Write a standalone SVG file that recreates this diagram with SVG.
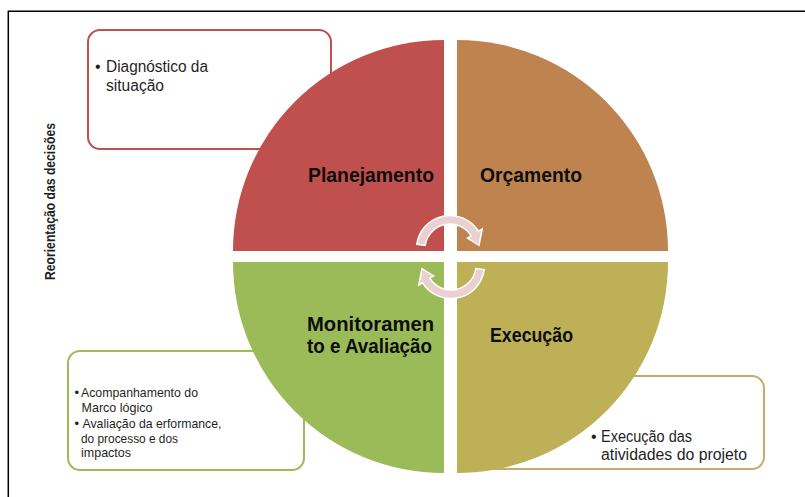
<svg xmlns="http://www.w3.org/2000/svg" width="805" height="497" viewBox="0 0 805 497">
<style>
.box{fill:#fff;stroke-width:2}
.t{font-family:"Liberation Sans",Arial,sans-serif;fill:#1f1f1f}
.q{font-family:"Liberation Sans",Arial,sans-serif;font-weight:bold;font-size:21px;fill:#0d0d0d}
.arr{fill:#EAD0D0;stroke:#fff;stroke-width:1.5;stroke-linejoin:miter}
</style>
<defs>
<path id="carrow" d="M416.8,244.3 A33.5,33.5 0 0 1 478.4,231.2 L482.2,228.9 L479.0,245.4 L467.4,238.1 L471.2,235.8 A25,25 0 0 0 425.2,245.5 Z"/>
</defs>
<rect width="805" height="497" fill="#fff"/>
<g id="frame" fill="none" stroke="#000" stroke-width="1.5">
<path d="M8.3,497 L8.3,11.3 L805,11.3"/>
</g>
<g id="label-reorientacao">
<text class="t" font-weight="bold" font-size="14" transform="translate(54.5,280) rotate(-90)" textLength="157" lengthAdjust="spacingAndGlyphs">Reorientação das decisões</text>
</g>
<g id="box-diagnostico">
<rect class="box" x="88" y="30" width="243" height="119" rx="12" stroke="#C0504D"/>
<text class="t" font-size="16" x="95" y="72">•</text>
<text class="t" font-size="16" x="106" y="72" textLength="102" lengthAdjust="spacingAndGlyphs">Diagnóstico da</text>
<text class="t" font-size="16" x="106" y="91" textLength="58" lengthAdjust="spacingAndGlyphs">situação</text>
</g>
<g id="box-monitoramento">
<rect class="box" x="68" y="351" width="236" height="119" rx="12" stroke="#9BBB59"/>
<text class="t" font-size="13" x="74.5" y="397">•</text>
<text class="t" font-size="13" x="81" y="397" textLength="117" lengthAdjust="spacingAndGlyphs">Acompanhamento do</text>
<text class="t" font-size="13" x="81.5" y="412" textLength="71" lengthAdjust="spacingAndGlyphs">Marco lógico</text>
<text class="t" font-size="13" x="74.5" y="428">•</text>
<text class="t" font-size="13" x="82.5" y="428" textLength="139" lengthAdjust="spacingAndGlyphs">Avaliação da erformance,</text>
<text class="t" font-size="13" x="81" y="443" textLength="97" lengthAdjust="spacingAndGlyphs">do processo e dos</text>
<text class="t" font-size="13" x="81" y="457" textLength="50" lengthAdjust="spacingAndGlyphs">impactos</text>
</g>
<g id="box-execucao">
<rect class="box" x="480" y="376" width="284" height="93" rx="12" stroke="#C9A86A"/>
<text class="t" font-size="16" x="591" y="442">•</text>
<text class="t" font-size="16" x="601" y="442" textLength="91" lengthAdjust="spacingAndGlyphs">Execução das</text>
<text class="t" font-size="16" x="601" y="460" textLength="146" lengthAdjust="spacingAndGlyphs">atividades do projeto</text>
</g>
<g id="node-planejamento">
<path d="M444,251 L233,251 A211,211 0 0 1 444,40 Z" fill="#C0504D"/>
<text class="q" x="308" y="182" textLength="126" lengthAdjust="spacingAndGlyphs">Planejamento</text>
</g>
<g id="node-orcamento">
<path d="M457,251 L457,40 A211,211 0 0 1 668,251 Z" fill="#BF834F"/>
<text class="q" x="480" y="182" textLength="102" lengthAdjust="spacingAndGlyphs">Orçamento</text>
</g>
<g id="node-execucao">
<path d="M457,262 L668,262 A211,211 0 0 1 457,473 Z" fill="#BEB057"/>
<text class="q" x="490" y="342" textLength="83" lengthAdjust="spacingAndGlyphs">Execução</text>
</g>
<g id="node-monitoramento">
<path d="M444,262 L444,473 A211,211 0 0 1 233,262 Z" fill="#9BBB59"/>
<text class="q" x="307" y="331" textLength="127" lengthAdjust="spacingAndGlyphs">Monitoramen</text>
<text class="q" x="307" y="353" textLength="125" lengthAdjust="spacingAndGlyphs">to e Avaliação</text>
</g>
<g id="connectors">
<use href="#carrow" class="arr"/>
<use href="#carrow" class="arr" transform="rotate(180 450.5 257)"/>
</g>
</svg>
